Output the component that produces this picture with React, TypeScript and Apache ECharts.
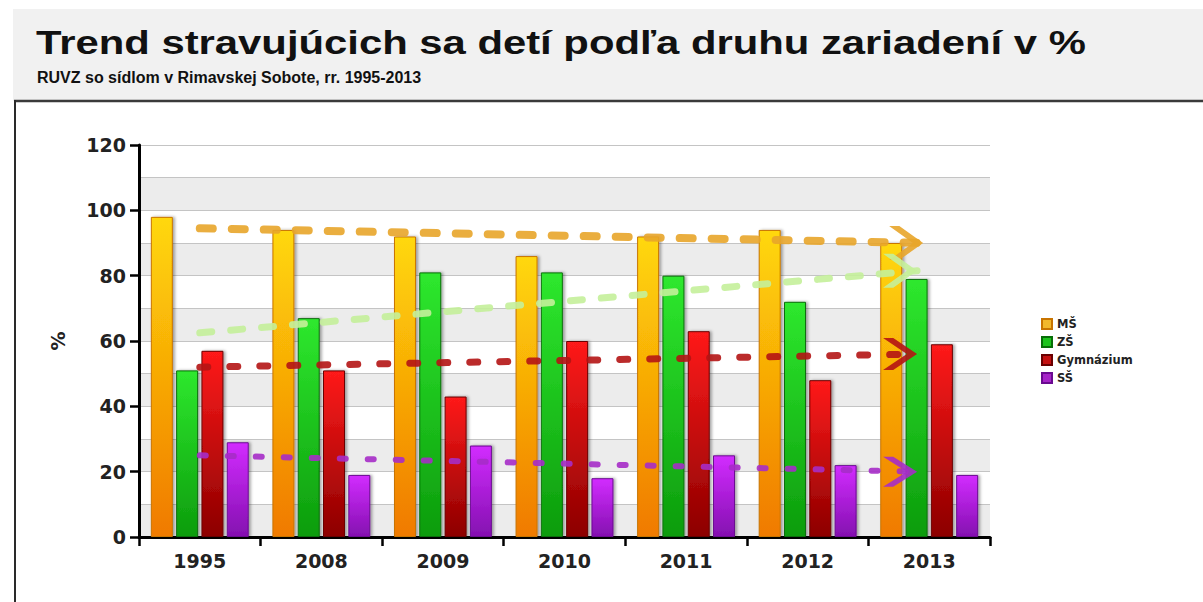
import React, { useEffect, useRef } from "react";
import * as echarts from "echarts";

const categories = ["1995", "2008", "2009", "2010", "2011", "2012", "2013"];
const seriesNames = ["MŠ", "ZŠ", "Gymnázium", "SŠ"];
const msValues = [98, 94, 92, 86, 92, 94, 90];
const zsValues = [51, 67, 81, 81, 80, 72, 79];
const gymValues = [57, 51, 43, 60, 63, 48, 59];
const ssValues = [29, 19, 28, 18, 25, 22, 19];
const yTicks = [0, 20, 40, 60, 80, 100, 120];

// trend arrows: [category position, value] start and end
const msTrend = [[0, 94.5], [5.95, 90]];
const zsTrend = [[0, 62.5], [5.9, 81.5]];
const gymTrend = [[0, 52], [5.9, 56]];
const ssTrend = [[0, 25], [5.9, 20]];

const TITLE = "Trend stravujúcich sa detí podľa druhu zariadení v %";
const SUBTITLE = "RUVZ so sídlom v Rimavskej Sobote, rr. 1995-2013";

const FONT = '"Liberation Sans", Arial, sans-serif';
const AXFONT = '"DejaVu Sans", "Liberation Sans", sans-serif';
const CHEVRON = "path://M0,0 L9,0 L30,17 L9,34 L0,34 L21,17 Z";

function grad(top: string, bottom: string) {
  return new echarts.graphic.LinearGradient(0, 0, 0, 1, [
    { offset: 0, color: top },
    { offset: 1, color: bottom },
  ]);
}

export default function App() {
  const ref = useRef<HTMLDivElement>(null);

  useEffect(() => {
    if (!ref.current) return;
    const chart = echarts.init(ref.current, null, { renderer: "svg" });

    const barCommon = {
      type: "bar",
      xAxisIndex: 0,
      yAxisIndex: 0,
      barWidth: 22,
      barGap: "15%",
      z: 2,
    };

    const bars = [
      { name: seriesNames[0], data: msValues, top: "#ffd80a", bottom: "#f07a00", border: "#c87400" },
      { name: seriesNames[1], data: zsValues, top: "#2ee82e", bottom: "#0c9c0c", border: "#086e08" },
      { name: seriesNames[2], data: gymValues, top: "#ff1a1a", bottom: "#8c0000", border: "#6a0000" },
      { name: seriesNames[3], data: ssValues, top: "#d22cff", bottom: "#8410b0", border: "#6a0a90" },
    ].map((b) => ({
      ...barCommon,
      name: b.name,
      data: b.data,
      itemStyle: {
        color: grad(b.top, b.bottom),
        borderColor: b.border,
        borderWidth: 1,
        shadowBlur: 3,
        shadowColor: "rgba(0,0,0,0.35)",
        shadowOffsetX: 2,
        shadowOffsetY: 0,
      },
    }));

    const trend = (name: string, pts: number[][], color: string, width: number, dash: number[], size: number[]) => ({
      type: "line",
      name,
      xAxisIndex: 1,
      yAxisIndex: 0,
      z: 5,
      silent: true,
      showSymbol: true,
      lineStyle: { color, width, type: dash, cap: "round", opacity: 0.9 },
      itemStyle: { color, opacity: 0.9 },
      data: [
        { value: pts[0], symbol: "none" },
        { value: pts[1], symbol: CHEVRON, symbolSize: size, symbolOffset: ["-50%", 0] },
      ],
    });

    const option: any = {
      animation: false,
      backgroundColor: "#ffffff",
      textStyle: { fontFamily: FONT },
      grid: { left: 139, right: 213, top: 145, bottom: 65, containLabel: false },
      legend: {
        orient: "vertical",
        left: 1036,
        top: 313,
        itemWidth: 10,
        itemHeight: 10,
        itemGap: 6,
        icon: "rect",
        selectedMode: false,
        textStyle: { fontFamily: AXFONT, fontWeight: "bold", fontSize: 11.5, color: "#222" },
        data: [
          { name: seriesNames[0], itemStyle: { color: "#f2b82c" } },
          { name: seriesNames[1], itemStyle: { color: "#1cc41c" } },
          { name: seriesNames[2], itemStyle: { color: "#c41010" } },
          { name: seriesNames[3], itemStyle: { color: "#a624c8" } },
        ],
      },
      xAxis: [
        {
          type: "category",
          data: categories,
          boundaryGap: true,
          axisLine: { show: true, lineStyle: { color: "#000", width: 3 } },
          axisTick: { show: true, length: 9, alignWithLabel: false, lineStyle: { color: "#000", width: 2.5 } },
          axisLabel: { color: "#222", fontWeight: "bold", fontSize: 19, fontFamily: AXFONT, margin: 14 },
          splitLine: { show: false },
        },
        {
          type: "value",
          min: -0.5,
          max: 6.5,
          show: false,
        },
      ],
      yAxis: [
        {
          type: "value",
          min: 0,
          max: 120,
          interval: 10,
          axisLine: { show: false },
          axisTick: { show: false },
          axisLabel: { show: false },
          splitLine: { show: true, lineStyle: { color: "#c4c4c4", width: 1 } },
          splitArea: { show: true, areaStyle: { color: ["#ececec", "#ffffff"] } },
        },
        {
          type: "value",
          position: "left",
          min: 0,
          max: 120,
          interval: 20,
          name: "%",
          nameLocation: "middle",
          nameGap: 72,
          nameRotate: 90,
          nameTextStyle: { color: "#222", fontWeight: "bold", fontSize: 19, fontFamily: AXFONT },
          axisLine: { show: true, lineStyle: { color: "#000", width: 3 } },
          axisTick: { show: true, length: 9, lineStyle: { color: "#000", width: 2.5 } },
          axisLabel: {
            color: "#222",
            fontWeight: "bold",
            fontSize: 19,
            fontFamily: AXFONT,
            margin: 13,
            formatter: (v: number) => (yTicks.includes(v) ? String(v) : ""),
          },
          splitLine: { show: false },
        },
      ],
      graphic: [
        {
          type: "rect",
          shape: { x: 13, y: 9, width: 1190, height: 92 },
          style: { fill: "#f1f1f1" },
          z: -10,
        },
        {
          type: "line",
          shape: { x1: 14, y1: 101, x2: 1203, y2: 101 },
          style: { stroke: "#3a3a3a", lineWidth: 2.5 },
        },
        {
          type: "line",
          shape: { x1: 15, y1: 100, x2: 15, y2: 602 },
          style: { stroke: "#2a2a2a", lineWidth: 2 },
        },
        {
          type: "text",
          x: 36,
          y: 26,
          scaleX: 1.267,
          style: {
            text: TITLE,
            font: `bold 33px ${FONT}`,
            fill: "#111",
            textVerticalAlign: "top",
          },
        },
        {
          type: "text",
          x: 37,
          y: 69,
          style: {
            text: SUBTITLE,
            font: `bold 16px ${FONT}`,
            fill: "#111",
            textVerticalAlign: "top",
          },
        },
      ],
      series: [
        ...bars,
        trend("MŠ trend", msTrend, "#e8a52a", 8, [13, 19], [34, 34]),
        trend("ZŠ trend", zsTrend, "#c4f09a", 7, [12, 19], [34, 34]),
        trend("Gymnázium trend", gymTrend, "#b41414", 7, [8, 22], [34, 32]),
        trend("SŠ trend", ssTrend, "#a62cc8", 6, [6, 22], [34, 30]),
      ],
    };

    chart.setOption(option);
    return () => chart.dispose();
  }, []);

  return (
    <div
      ref={ref}
      style={{ position: "fixed", left: 0, top: 0, width: 1203, height: 602 }}
    />
  );
}
